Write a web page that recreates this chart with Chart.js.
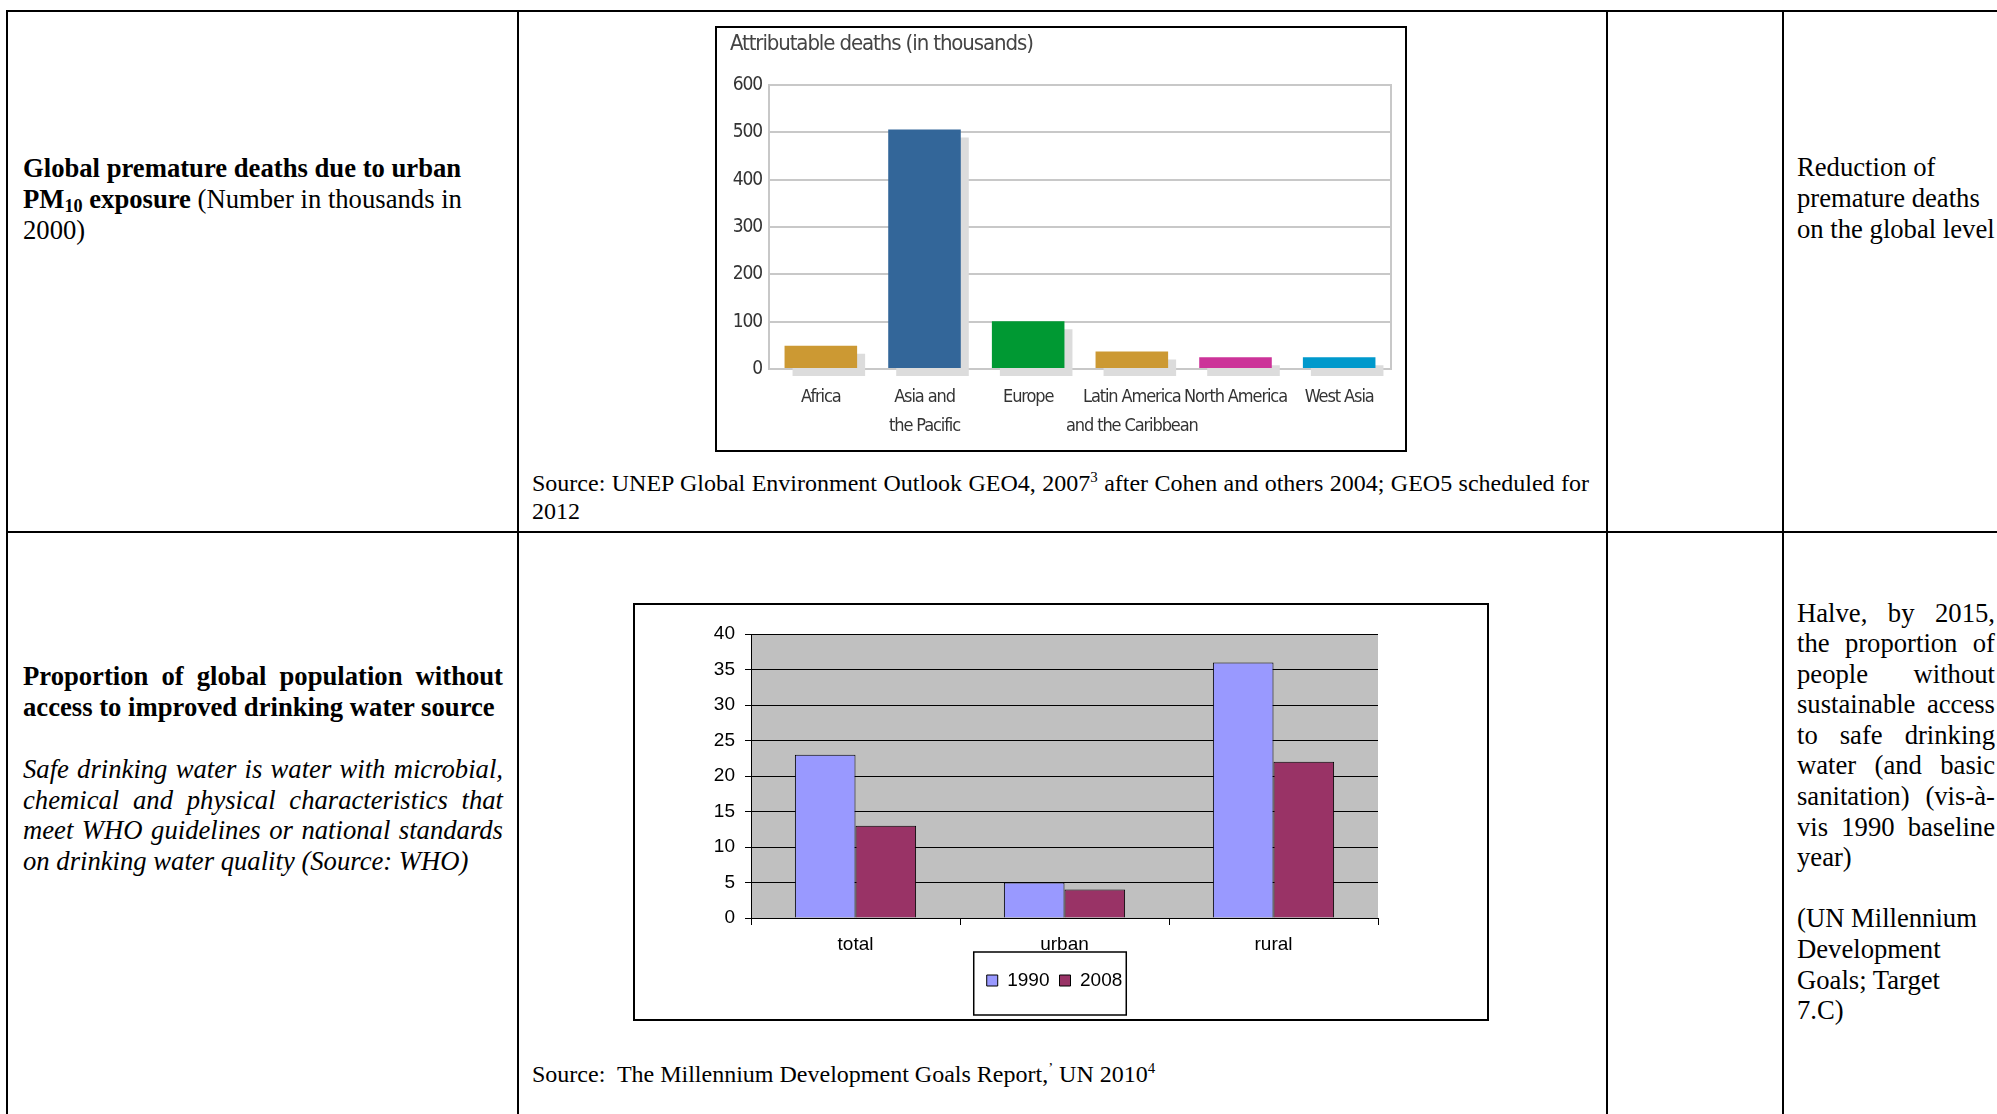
<!DOCTYPE html>
<html>
<head>
<meta charset="utf-8">
<script src="https://cdn.jsdelivr.net/npm/chart.js@4.4.1/dist/chart.umd.min.js"></script>
<style>
  html, body { margin: 0; padding: 0; background: #fff; width: 1997px; height: 1114px; overflow: hidden; }
  .rule { position: absolute; background: #000; }
  .t { position: absolute; font-family: 'Liberation Serif', 'Times New Roman', serif; font-size: 26.67px; line-height: 31px; color: #000; white-space: nowrap; }
  .t div { white-space: nowrap; }
  .cap { font-size: 24px; line-height: 28px; }
  .j { text-align: justify; text-align-last: justify; }
  sub { font-size: 0.68em; line-height: 0; vertical-align: -0.22em; }
  sup { font-size: 0.62em; line-height: 0; vertical-align: 0.6em; }
  .box { position: absolute; border: 2px solid #000; box-sizing: border-box; background: #fff; }
  .box canvas { position: absolute; left: 0; top: 0; }
</style>
</head>
<body>

<!-- table rules -->
<div class="rule" style="left:6px;top:10px;width:1991px;height:2px"></div>
<div class="rule" style="left:6px;top:531px;width:1991px;height:2px"></div>
<div class="rule" style="left:6px;top:10px;width:2px;height:1104px"></div>
<div class="rule" style="left:517px;top:10px;width:2px;height:1104px"></div>
<div class="rule" style="left:1606px;top:10px;width:2px;height:1104px"></div>
<div class="rule" style="left:1782px;top:10px;width:2px;height:1104px"></div>

<!-- row 1 -->
<div class="t" style="left:23px;top:152.5px">
  <div><b>Global premature deaths due to urban</b></div>
  <div><b>PM<sub>10</sub> exposure</b> (Number in thousands in</div>
  <div>2000)</div>
</div>

<div class="box" style="left:715px;top:26px;width:692px;height:426px">
  <canvas id="deathsChart" width="688" height="422"></canvas>
</div>

<div class="t cap" style="left:532px;top:469px">
  <div class="j" style="width:1057px">Source: UNEP Global Environment Outlook GEO4, 2007<sup>3</sup> after Cohen and others 2004; GEO5 scheduled for</div>
  <div>2012</div>
</div>

<div class="t" style="left:1797px;top:151.5px">
  <div>Reduction of</div>
  <div>premature deaths</div>
  <div>on the global level</div>
</div>

<!-- row 2 -->
<div class="t" style="left:23px;top:661px;width:480px">
  <div class="j"><b>Proportion of global population without</b></div>
  <div><b>access to improved drinking water source</b></div>
</div>
<div class="t" style="left:23px;top:754px;width:480px;line-height:30.7px">
  <div class="j"><i>Safe drinking water is water with microbial,</i></div>
  <div class="j"><i>chemical and physical characteristics that</i></div>
  <div class="j"><i>meet WHO guidelines or national standards</i></div>
  <div><i>on drinking water quality (Source: WHO)</i></div>
</div>

<div class="box" style="left:633px;top:603px;width:856px;height:418px">
  <canvas id="waterChart" width="852" height="414"></canvas>
</div>

<div class="t cap" style="left:532px;top:1060px">
  <div>Source:&nbsp; The Millennium Development Goals Report,<sup>&rsquo;</sup> UN 2010<sup>4</sup></div>
</div>

<div class="t" style="left:1797px;top:597.5px;width:198px;line-height:30.6px">
  <div class="j">Halve, by 2015,</div>
  <div class="j">the proportion of</div>
  <div class="j">people without</div>
  <div class="j">sustainable access</div>
  <div class="j">to safe drinking</div>
  <div class="j">water (and basic</div>
  <div class="j">sanitation) (vis-à-</div>
  <div class="j">vis 1990 baseline</div>
  <div>year)</div>
  <div>&nbsp;</div>
  <div>(UN Millennium</div>
  <div>Development</div>
  <div>Goals; Target</div>
  <div>7.C)</div>
</div>

<script>
// chart 1: premature deaths, thousands, 2000
const regionLabels = ['Africa', ['Asia and', 'the Pacific'], 'Europe', ['Latin America', 'and the Caribbean'], 'North America', 'West Asia'];
const deathValues = [49, 506, 101, 37, 25, 25];
const regionColors = ['#cc9933', '#336699', '#009933', '#cc9933', '#cc3399', '#0099cc'];
const deathAxisMax = 600;
const deathAxisStep = 100;

// chart 2: population without improved water source, %
const waterCategories = ['total', 'urban', 'rural'];
const waterYears = ['1990', '2008'];
const water1990 = [23, 5, 36];
const water2008 = [13, 4, 22];
const waterAxisMax = 40;
const waterAxisStep = 5;

// first installed condensed face, else plain sans
function pickNarrowFont() {
  const ctx = document.createElement('canvas').getContext('2d');
  ctx.font = '40px monospace';
  const base = ctx.measureText('North America').width;
  const names = ['DejaVu Sans Condensed', 'Liberation Sans Narrow', 'Noto Sans Condensed'];
  for (const name of names) {
    ctx.font = "40px '" + name + "', monospace";
    if (ctx.measureText('North America').width !== base) return "'" + name + "', sans-serif";
  }
  return "'Liberation Sans', sans-serif";
}

const narrowFont = pickNarrowFont();
const arialFont = "'Liberation Sans', Arial, sans-serif";

// squeeze the letters a little, the original uses a very narrow face
const tightText = {
  id: 'tightText',
  beforeUpdate(chart) { chart.ctx.letterSpacing = '-1.1px'; },
  beforeDraw(chart) { chart.ctx.letterSpacing = '-1.1px'; }
};

// grey drop shadow under the bars
const barShadow = {
  id: 'barShadow',
  beforeDatasetsDraw(chart) {
    const ctx = chart.ctx;
    ctx.save();
    ctx.shadowColor = '#dcdcdc';
    ctx.shadowOffsetX = 8;
    ctx.shadowOffsetY = 8;
    ctx.shadowBlur = 0;
  },
  afterDatasetsDraw(chart) {
    chart.ctx.restore();
  }
};

// right edge of the plot box
const plotFrame = {
  id: 'plotFrame',
  afterDraw(chart) {
    const { ctx, chartArea } = chart;
    ctx.save();
    ctx.strokeStyle = '#c8c8c8';
    ctx.lineWidth = 2;
    ctx.beginPath();
    ctx.moveTo(chartArea.right, chartArea.top - 1);
    ctx.lineTo(chartArea.right, chartArea.bottom + 1);
    ctx.stroke();
    ctx.restore();
  }
};

// grey plot background
const plotBackground = {
  id: 'plotBackground',
  beforeDraw(chart) {
    const { ctx, chartArea } = chart;
    ctx.save();
    ctx.fillStyle = '#c0c0c0';
    ctx.fillRect(chartArea.left, chartArea.top, chartArea.right - chartArea.left, chartArea.bottom - chartArea.top);
    ctx.restore();
  }
};

// legend sits a bit left of the plot centre, inside a box
const legendFrame = {
  id: 'legendFrame',
  afterLayout(chart) {
    chart.legend.left -= 20;
  },
  afterDraw(chart) {
    const hits = chart.legend.legendHitBoxes;
    if (!hits || !hits.length) return;
    const first = hits[0];
    const last = hits[hits.length - 1];
    const left = first.left - 13;
    const right = last.left + last.width + 4;
    const top = first.top - 19;
    const bottom = first.top + 44;
    const ctx = chart.ctx;
    ctx.save();
    ctx.strokeStyle = '#000';
    ctx.lineWidth = 1.5;
    ctx.strokeRect(left, top, right - left, bottom - top);
    ctx.restore();
  }
};

new Chart(document.getElementById('deathsChart'), {
  type: 'bar',
  data: {
    labels: regionLabels,
    datasets: [{
      data: deathValues,
      backgroundColor: regionColors,
      borderWidth: 0,
      barPercentage: 0.7,
      categoryPercentage: 1,
      clip: false
    }]
  },
  options: {
    responsive: false,
    animation: false,
    layout: { padding: { left: 13, right: 14, top: 0, bottom: 0 } },
    plugins: {
      legend: { display: false },
      tooltip: { enabled: false },
      title: {
        display: true,
        text: 'Attributable deaths (in thousands)',
        align: 'start',
        color: '#444',
        font: { family: narrowFont, size: 22, weight: 'normal' },
        padding: { top: 3.5, bottom: 27 }
      }
    },
    scales: {
      x: {
        grid: { display: false, drawTicks: false },
        border: { display: false },
        ticks: {
          color: '#333',
          font: { family: narrowFont, size: 18, lineHeight: 1.61 },
          padding: 14,
          maxRotation: 0,
          autoSkip: false
        },
        afterFit: (scale) => { scale.height = 81; }
      },
      y: {
        min: 0,
        max: deathAxisMax,
        ticks: { stepSize: deathAxisStep, color: '#333', font: { family: narrowFont, size: 19 }, padding: 7 },
        grid: { color: '#c8c8c8', lineWidth: 2, drawTicks: false },
        border: { color: '#c8c8c8', width: 2 },
        afterFit: (scale) => { scale.width = 39; }
      }
    }
  },
  plugins: [tightText, plotFrame, barShadow]
});

new Chart(document.getElementById('waterChart'), {
  type: 'bar',
  data: {
    labels: waterCategories,
    datasets: [
      {
        label: waterYears[0],
        data: water1990,
        backgroundColor: '#9999ff',
        borderColor: '#000',
        borderWidth: 1,
        barPercentage: 1,
        categoryPercentage: 0.58
      },
      {
        label: waterYears[1],
        data: water2008,
        backgroundColor: '#993366',
        borderColor: '#000',
        borderWidth: 1,
        barPercentage: 1,
        categoryPercentage: 0.58
      }
    ]
  },
  options: {
    responsive: false,
    animation: false,
    layout: { padding: { left: 60, right: 109, top: 29, bottom: 19 } },
    plugins: {
      tooltip: { enabled: false },
      legend: {
        position: 'bottom',
        fullSize: false,
        labels: {
          color: '#000',
          font: { family: arialFont, size: 19 },
          boxWidth: 11,
          boxHeight: 11,
          padding: 10
        }
      }
    },
    scales: {
      x: {
        grid: { offset: true, drawOnChartArea: false, color: '#000', tickLength: 7 },
        border: { color: '#000', width: 1 },
        ticks: { color: '#000', font: { family: arialFont, size: 19 }, padding: 8.5 },
        afterFit: (scale) => { scale.height = 43; }
      },
      y: {
        min: 0,
        max: waterAxisMax,
        ticks: { stepSize: waterAxisStep, color: '#000', font: { family: arialFont, size: 19 }, padding: 10 },
        grid: { color: '#000', lineWidth: 1, tickLength: 6 },
        border: { color: '#000', width: 1 },
        afterFit: (scale) => { scale.width = 56; }
      }
    }
  },
  plugins: [plotBackground, legendFrame]
});
</script>
</body>
</html>
